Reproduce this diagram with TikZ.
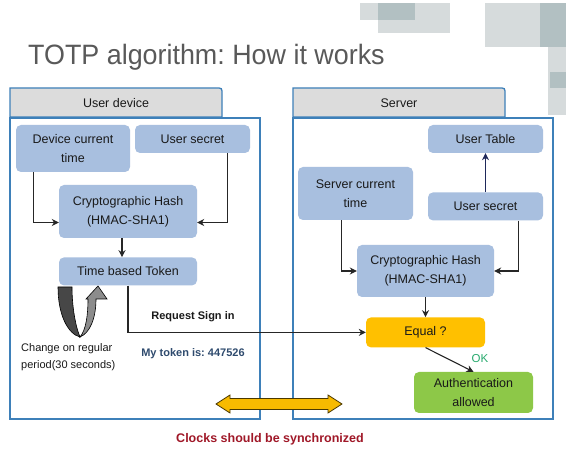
\documentclass[tikz,border=0pt]{standalone}
\usepackage{fontspec}
\setmainfont{Liberation Sans}
\usetikzlibrary{arrows.meta, positioning}
\frenchspacing

\definecolor{boxblue}{RGB}{168,191,223}
\definecolor{panelblue}{RGB}{62,128,185}
\definecolor{tabgray}{RGB}{220,220,220}
\definecolor{eqorange}{RGB}{255,192,0}
\definecolor{okgreen}{RGB}{141,200,72}
\definecolor{titlegray}{RGB}{89,89,89}
\definecolor{tokenblue}{RGB}{47,75,110}
\definecolor{clockred}{RGB}{160,24,40}
\definecolor{okteal}{RGB}{40,170,110}
\definecolor{navy}{RGB}{30,40,90}
\definecolor{syncgold}{RGB}{247,186,0}
\definecolor{decolight}{RGB}{214,219,220}
\definecolor{decodark}{RGB}{178,192,194}

\begin{document}
\begin{tikzpicture}[
    x=1pt, y=-1pt,
    every node/.style={font=\fontsize{12.5}{19}\selectfont, text=black!90},
    box/.style={rectangle, fill=boxblue, rounded corners=5pt, align=center, inner sep=0pt},
    panel/.style={rectangle, draw=panelblue, line width=1.3pt, inner sep=0pt},
    tab/.style={fill=tabgray, draw=panelblue, line width=1.3pt},
    arr/.style={-{Stealth[length=7pt, width=7pt]}, line width=1.1pt, draw=black!85},
    note/.style={font=\fontsize{11}{17}\selectfont, inner sep=0pt},
    boldnote/.style={font=\fontsize{11}{13}\selectfont\bfseries, inner sep=0pt},
]

\useasboundingbox (0,0) rectangle (566,454);
\fill[white] (0,0) rectangle (566,454);

% corner squares
\fill[decolight] (360,3) rectangle (450,20);
\fill[decolight] (378,20) rectangle (450,33);
\fill[decodark] (378,3) rectangle (415,20);
\fill[decolight] (485,3) rectangle (566,47);
\fill[decodark] (540,3) rectangle (566,47);
\fill[decolight] (548,47) rectangle (566,115);
\fill[decodark] (550,72) rectangle (566,88);

\node[anchor=base west, font=\fontsize{28}{34}\selectfont, text=titlegray, inner sep=0pt] (title) at (28,65) {\scalebox{0.96}[1]{TOTP algorithm: How it works}};

% tabs and panels
\draw[tab] (10,117) -- (10,88) -- (216,88) .. controls (222,88) .. (222,94) -- (222,117) -- cycle;
\draw[tab] (293,117) -- (293,88) -- (499,88) .. controls (505,88) .. (505,94) -- (505,117) -- cycle;
\node (devlabel) at (116,103) {User device};
\node (srvlabel) at (399,103) {Server};
\node[panel, minimum width=250pt, minimum height=301pt] (devpanel) at (135,268.5) {};
\node[panel, minimum width=260pt, minimum height=301pt] (srvpanel) at (423,268.5) {};

% user device
\node[box, minimum width=114pt, minimum height=47pt] (devtime) at (73,148.5) {Device current\\time};
\node[box, minimum width=115pt, minimum height=28pt] (usersec) at (192.5,139) {User secret};
\node[box, minimum width=138pt, minimum height=53pt] (hash) at (128,211.5) {Cryptographic Hash\\(HMAC-SHA1)};
\node[box, minimum width=138pt, minimum height=28pt, below=19pt of hash] (token) {Time based Token};

% server
\node[box, minimum width=115pt, minimum height=28pt] (usertab) at (485.5,139) {User Table};
\node[box, minimum width=115pt, minimum height=28pt, below=39pt of usertab] (srvsec) {User secret};
\node[box, minimum width=115pt, minimum height=53pt] (srvtime) at (355.5,193.5) {Server current\\time};
\node[box, minimum width=137pt, minimum height=52pt] (srvhash) at (425.5,271) {Cryptographic Hash\\(HMAC-SHA1)};
\node[box, fill=eqorange, minimum width=119pt, minimum height=30pt, below=20pt of srvhash] (equal) {Equal ?};
\node[box, fill=okgreen, minimum width=119pt, minimum height=41pt] (auth) at (473.5,392.5) {Authentication\\allowed};

\draw[arr] ([xshift=18pt]devtime.south west) |- ([yshift=-11pt]hash.west);
\draw[arr] ([xshift=-23pt]usersec.south east) |- ([yshift=-11pt]hash.east);
\draw[arr] ([xshift=-6pt]hash.south) -- ([xshift=-6pt]token.north);
\draw[arr] (token.south) |- (equal.west);
\draw[arr] ([xshift=44pt]srvtime.south west) |- (srvhash.west);
\draw[arr] ([xshift=-25pt]srvsec.south east) |- (srvhash.east);
\draw[arr, draw=navy] (srvsec) -- (usertab);
\draw[arr] (srvhash) -- (equal);
\draw[arr] (equal.south) -- (auth.north);

\node[boldnote] (request) at (193,317) {Request Sign in};
\node[boldnote, text=tokenblue] (mytoken) at (193,354) {My token is: 447526};
\node[note, anchor=west, align=left] (period) at (21,357.5) {Change on regular\\period(30 seconds)};
\node[note, font=\fontsize{11.5}{14}\selectfont, text=okteal] (ok) at (480,359) {OK};

% token refresh loop
\filldraw[fill=black!72, draw=black, line width=0.6pt]
  (58,287) .. controls (58,315) and (68,334) .. (80,337)
  .. controls (75,325) and (72,305) .. (72,287) -- cycle;
\filldraw[fill=black!45, draw=black, line width=0.6pt]
  (80,337) .. controls (86,330) and (88,315) .. (88,299) -- (86,299) -- (98,286)
  -- (107,299) -- (96,299) .. controls (96,318) and (90,333) .. (80,337) -- cycle;

% clock sync arrow
\filldraw[fill=syncgold, draw=black!70!syncgold, line width=0.8pt]
  (216,404) -- (230,395) -- (230,398.5) -- (328,398.5) -- (328,395) -- (342,404)
  -- (328,413) -- (328,409.5) -- (230,409.5) -- (230,413) -- cycle;

\node[font=\fontsize{12.5}{15}\selectfont\bfseries, text=clockred] (clocks) at (270,439) {Clocks should be synchronized};

\end{tikzpicture}
\end{document}
